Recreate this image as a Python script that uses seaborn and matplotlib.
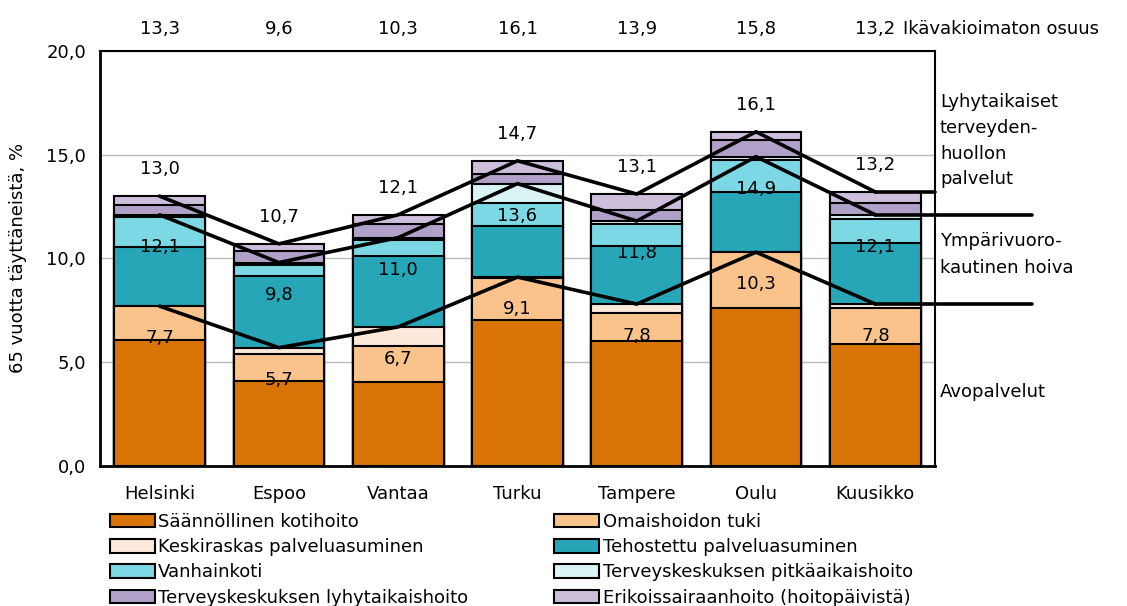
#!/usr/bin/env python3
"""
Vanhuspalvelujen kattavuus Kuusikko-kunnissa - pinottu pylväskaavio
"""
import numpy as np
import pandas as pd
import matplotlib
matplotlib.use('Agg')
import matplotlib.pyplot as plt
from matplotlib.patches import Patch
import seaborn as sns

# Data (luettu kuvasta)
cities = ['Helsinki', 'Espoo', 'Vantaa', 'Turku', 'Tampere', 'Oulu', 'Kuusikko']
series_names = ['Säännöllinen kotihoito', 'Omaishoidon tuki',
                'Keskiraskas palveluasuminen', 'Tehostettu palveluasuminen',
                'Vanhainkoti', 'Terveyskeskuksen pitkäaikaishoito',
                'Terveyskeskuksen lyhytaikaishoito', 'Erikoissairaanhoito (hoitopäivistä)']
kotihoito = [6.05, 4.10, 4.05, 7.05, 6.00, 7.60, 5.90]
omaishoito = [1.65, 1.30, 1.75, 2.00, 1.35, 2.70, 1.70]
keskiraskas = [0.02, 0.30, 0.90, 0.05, 0.45, 0.02, 0.20]
tehostettu = [2.85, 3.45, 3.40, 2.45, 2.80, 2.90, 2.95]
vanhainkoti = [1.40, 0.55, 0.80, 1.10, 1.05, 1.50, 1.15]
tk_pitka = [0.13, 0.10, 0.10, 0.95, 0.15, 0.18, 0.20]
tk_lyhyt = [0.45, 0.55, 0.65, 0.45, 0.55, 0.80, 0.55]
erikois = [0.45, 0.35, 0.45, 0.65, 0.75, 0.40, 0.55]

avopalvelut = [7.7, 5.7, 6.7, 9.1, 7.8, 10.3, 7.8]
ymparivuorokautinen = [12.1, 9.8, 11.0, 13.6, 11.8, 14.9, 12.1]
yhteensa = [13.0, 10.7, 12.1, 14.7, 13.1, 16.1, 13.2]
ikavakioimaton = [13.3, 9.6, 10.3, 16.1, 13.9, 15.8, 13.2]

colors = ['#D97508', '#F9C38B', '#FDE9DA', '#27A6B8',
          '#7BD8E4', '#DAF3F5', '#B1A1C9', '#CDBFDC']

def fmt(v):
    return f'{v:.1f}'.replace('.', ',')

sns.set_style('white')
plt.rcParams['font.family'] = ['DejaVu Sans']
plt.rcParams['text.color'] = 'black'
plt.rcParams['axes.labelcolor'] = 'black'
plt.rcParams['xtick.color'] = 'black'
plt.rcParams['ytick.color'] = 'black'
FS = 13

fig = plt.figure(figsize=(11.27, 6.06), dpi=100)
ax = fig.add_axes([0.0887, 0.231, 0.7409, 0.6852])

# Pinotut pylväät: piirretään kumulatiiviset summat ylimmästä alkaen
layers = [kotihoito, omaishoito, keskiraskas, tehostettu,
          vanhainkoti, tk_pitka, tk_lyhyt, erikois]
cum = np.cumsum(np.array(layers), axis=0)
for i in range(len(layers) - 1, -1, -1):
    df = pd.DataFrame({'city': cities, 'value': cum[i]})
    sns.barplot(data=df, x='city', y='value', color=colors[i], saturation=1,
                width=0.76, edgecolor='black', linewidth=1.5, errorbar=None,
                ax=ax, zorder=2)

# Viivat
xpos = np.arange(len(cities))
for vals, ext in [(avopalvelut, 7.31), (ymparivuorokautinen, 7.31), (yhteensa, 6.5)]:
    sns.lineplot(x=xpos, y=vals, color='black', linewidth=2.6, ax=ax,
                 zorder=4, sort=False)
    ax.plot([xpos[-1], ext], [vals[-1], vals[-1]], color='black',
            linewidth=2.6, clip_on=False, zorder=4)

# Arvolaput
for x, v in zip(xpos, avopalvelut):
    ax.annotate(fmt(v), (x, v), xytext=(0, -32), textcoords='offset pixels',
                ha='center', va='center', fontsize=FS, zorder=5)
for x, v in zip(xpos, ymparivuorokautinen):
    ax.annotate(fmt(v), (x, v), xytext=(0, -32), textcoords='offset pixels',
                ha='center', va='center', fontsize=FS, zorder=5)
for x, v in zip(xpos, yhteensa):
    ax.annotate(fmt(v), (x, v), xytext=(0, 27), textcoords='offset pixels',
                ha='center', va='center', fontsize=FS, zorder=5)

trans = ax.get_xaxis_transform()
for x, v in zip(xpos, ikavakioimaton):
    ax.text(x, 1.053, fmt(v), transform=trans, ha='center', va='center', fontsize=FS)
ax.text(6.23, 1.053, 'Ikävakioimaton osuus', transform=trans, ha='left',
        va='center', fontsize=FS)

# Oikean reunan selitteet
ytrans = ax.get_yaxis_transform()
ax.text(1.006, 15.67, 'Lyhytaikaiset\nterveyden-\nhuollon\npalvelut',
        transform=ytrans, ha='left', va='center', fontsize=FS, linespacing=1.55)
ax.text(1.006, 10.19, 'Ympärivuoro-\nkautinen hoiva',
        transform=ytrans, ha='left', va='center', fontsize=FS, linespacing=1.6)
ax.text(1.006, 3.56, 'Avopalvelut', transform=ytrans,
        ha='left', va='center', fontsize=FS)

# Akselit
ax.set_xlim(-0.5, len(cities) - 0.5)
ax.set_ylim(0, 20)
ax.set_yticks(np.arange(0, 20.1, 5))
ax.set_yticklabels([fmt(v) for v in np.arange(0, 20.1, 5)], fontsize=FS)
ax.set_xticks(xpos)
ax.set_xticklabels(cities, fontsize=FS)
ax.set_xticks(np.arange(-0.5, len(cities), 1), minor=True)
ax.tick_params(axis='x', which='major', length=0, pad=14)
ax.tick_params(axis='x', which='minor', length=5, width=1, color='black', direction='out')
ax.tick_params(axis='y', length=6, width=1.5, color='black', direction='out', pad=4)
ax.set_xlabel('')
ax.set_ylabel('65 vuotta täyttäneistä, %', fontsize=FS, labelpad=14)
ax.yaxis.grid(True, color='#BBBBBB', linewidth=1, zorder=0)
ax.set_axisbelow(True)
for side in ['left', 'bottom']:
    ax.spines[side].set_color('black')
    ax.spines[side].set_linewidth(2)
for side in ['top', 'right']:
    ax.spines[side].set_color('black')
    ax.spines[side].set_linewidth(1.5)

# Selite, rivijärjestys kahdessa sarakkeessa
handles = [Patch(facecolor=c, edgecolor='black', linewidth=1.5) for c in colors]
order = [0, 2, 4, 6, 1, 3, 5, 7]
leg = ax.legend([handles[i] for i in order], [series_names[i] for i in order],
                ncol=2, loc='upper left', bbox_to_anchor=(0.0115, -0.113),
                frameon=False, fontsize=FS, handlelength=2.5, handleheight=0.78,
                handletextpad=0.2, columnspacing=4.75, labelspacing=0.40,
                borderaxespad=0, borderpad=0)

fig.savefig('out.png', dpi=100)
